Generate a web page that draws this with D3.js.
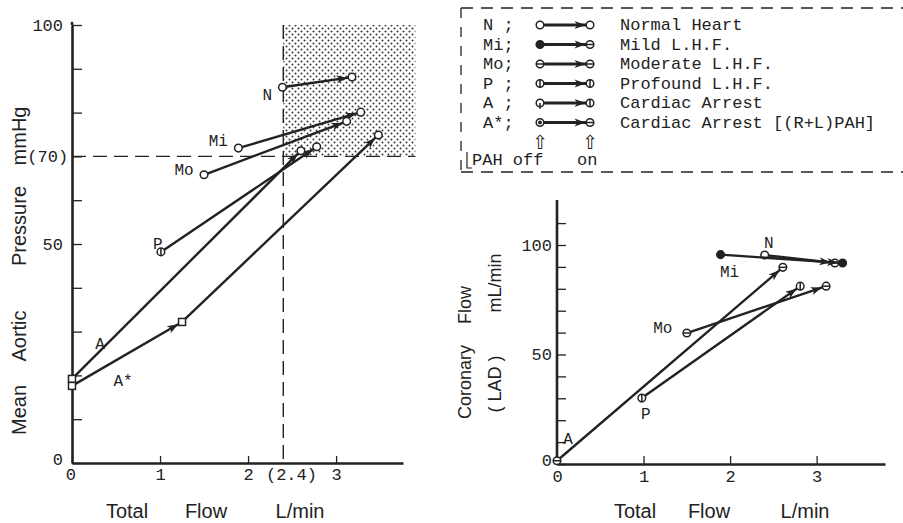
<!DOCTYPE html>
<html>
<head>
<meta charset="utf-8">
<script src="https://cdn.jsdelivr.net/npm/d3@7"></script>
<style>
  body { margin: 0; background: #fff; }
  svg text { fill: #222; }
</style>
</head>
<body>
<script>

// groups and legend
var groups = ["N", "Mi", "Mo", "P", "A", "A*"];
var groupKeys = ["N ;", "Mi;", "Mo;", "P ;", "A ;", "A*;"];
var groupNames = ["Normal Heart", "Mild L.H.F.", "Moderate L.H.F.", "Profound L.H.F.",
                  "Cardiac Arrest", "Cardiac Arrest [(R+L)PAH]"];

// left chart: total flow (L/min) and mean aortic pressure (mmHg), PAH off -> on
var aoFlowOff = [2.39, 1.89, 1.50, 1.01, 0.00, 0.00];
var aoPresOff = [85.8, 71.9, 65.8, 48.2, 19.2, 17.6];
var aoFlowOn  = [3.18, 3.28, 3.12, 2.78, 2.60, 3.48];
var aoPresOn  = [88.1, 80.1, 78.0, 72.2, 71.3, 74.9];
var aStarMid  = [1.25, 32.2];   // A* intermediate step

// right chart: total flow and coronary flow (LAD, mL/min)
var corGroups  = ["N", "Mi", "Mo", "P", "A"];
var corFlowOff = [2.40, 1.89, 1.50, 0.98, 0.00];
var corLadOff  = [95.4, 95.6, 59.8, 30.1, 1.5];
var corFlowOn  = [3.21, 3.30, 3.11, 2.81, 2.61];
var corLadOn   = [91.8, 91.8, 81.2, 81.2, 89.8];

// ticks
var aoYTicks = [0, 10, 20, 30, 40, 50, 60, 70, 80, 90, 100];
var aoYLabels = {100: "100", 70: "(70)", 50: "50", 0: "0"};
var aoXTicks = [0, 1, 2, 3];
var aoXLabels = {0: "0", 1: "1", 2: "2", 2.4: "(2.4)", 3: "3"};
var corYTicks = [0, 10, 20, 30, 40, 50, 60, 70, 80, 90, 100, 110];
var corYLabels = {100: "100", 50: "50", 0: "0"};
var corXTicks = [0, 1, 2, 3];
var targetFlow = 2.4, targetPres = 70;

var ink = "#222";
var mono = "'Liberation Mono', 'DejaVu Sans Mono', monospace";
var sans = "'Liberation Sans', Arial, sans-serif";

var svg = d3.select("body").append("svg")
    .attr("width", 903)
    .attr("height", 523);

var defs = svg.append("defs");
var pat = defs.append("pattern")
    .attr("id", "dots")
    .attr("patternUnits", "userSpaceOnUse")
    .attr("width", 6).attr("height", 6);
pat.append("circle").attr("cx", 1.5).attr("cy", 1.5).attr("r", 1).attr("fill", "#333");
pat.append("circle").attr("cx", 4.5).attr("cy", 4.5).attr("r", 1).attr("fill", "#333");

// marker shapes
function marker(g, x, y, type) {
    var r = 3.8;
    if (type === "square") {
        g.append("rect").attr("x", x - 3.5).attr("y", y - 3.5).attr("width", 7).attr("height", 7)
            .attr("fill", "#fff").attr("stroke", ink).attr("stroke-width", 1.5);
        return;
    }
    g.append("circle").attr("cx", x).attr("cy", y).attr("r", r)
        .attr("fill", type === "filled" ? ink : "#fff")
        .attr("stroke", ink).attr("stroke-width", 1.5);
    if (type === "hbar") {
        g.append("line").attr("x1", x - r).attr("x2", x + r).attr("y1", y).attr("y2", y)
            .attr("stroke", ink).attr("stroke-width", 1.5);
    } else if (type === "vbar") {
        g.append("line").attr("x1", x).attr("x2", x).attr("y1", y - r).attr("y2", y + r)
            .attr("stroke", ink).attr("stroke-width", 1.5);
    } else if (type === "tail") {
        g.append("line").attr("x1", x).attr("x2", x).attr("y1", y).attr("y2", y + r + 2)
            .attr("stroke", ink).attr("stroke-width", 1.5);
    } else if (type === "dot") {
        g.append("circle").attr("cx", x).attr("cy", y).attr("r", 2).attr("fill", ink);
    }
}

// segment with an arrowhead that stops at the end marker
function arrowSeg(g, x1, y1, x2, y2, sw) {
    g.append("line").attr("x1", x1).attr("y1", y1).attr("x2", x2).attr("y2", y2)
        .attr("stroke", ink).attr("stroke-width", sw || 2.4);
    var dx = x2 - x1, dy = y2 - y1, len = Math.sqrt(dx * dx + dy * dy);
    var ux = dx / len, uy = dy / len;
    var tx = x2 - ux * 4.5, ty = y2 - uy * 4.5;
    var bx = tx - ux * 11, by = ty - uy * 11;
    g.append("path")
        .attr("d", "M" + tx + "," + ty +
              "L" + (bx - uy * 4) + "," + (by + ux * 4) +
              "L" + (bx + ux * 3) + "," + (by + uy * 3) +
              "L" + (bx + uy * 4) + "," + (by - ux * 4) + "Z")
        .attr("fill", ink);
}

// ---------------- left chart ----------------
var xl = d3.scaleLinear().domain([0, 3.76]).range([72, 403]);
var yl = d3.scaleLinear().domain([0, 100]).range([463, 25]);
var left = svg.append("g");

// shaded target region
left.append("rect")
    .attr("x", xl(targetFlow)).attr("y", yl(100))
    .attr("width", xl(3.9) - xl(targetFlow))
    .attr("height", yl(targetPres) - yl(100))
    .attr("fill", "url(#dots)");

left.append("line")
    .attr("x1", xl(0)).attr("x2", xl(3.9))
    .attr("y1", yl(targetPres)).attr("y2", yl(targetPres))
    .attr("stroke", ink).attr("stroke-width", 1.4).attr("stroke-dasharray", "14,7");
left.append("line")
    .attr("x1", xl(targetFlow)).attr("x2", xl(targetFlow))
    .attr("y1", yl(100)).attr("y2", yl(0))
    .attr("stroke", ink).attr("stroke-width", 1.4).attr("stroke-dasharray", "14,7");

var lyAxis = left.append("g")
    .attr("transform", "translate(" + xl(0) + ",0)")
    .call(d3.axisLeft(yl).tickValues(aoYTicks).tickSizeInner(-10).tickSizeOuter(0).tickPadding(9)
        .tickFormat(function(d) { return aoYLabels[d] || ""; }));

var lxAxis = left.append("g")
    .attr("transform", "translate(0," + yl(0) + ")")
    .call(d3.axisBottom(xl).tickValues(aoXTicks.concat([targetFlow])).tickSizeInner(-7).tickSizeOuter(0).tickPadding(5)
        .tickFormat(function(d) { return aoXLabels[d] || ""; }));

[lyAxis, lxAxis].forEach(function(ax) {
    ax.select(".domain").attr("stroke", ink).attr("stroke-width", 2.6);
    ax.selectAll(".tick line").attr("stroke", ink).attr("stroke-width", 1.3);
    ax.selectAll("text").style("font-family", mono).style("font-size", "17px").attr("fill", ink);
});
left.append("line")
    .attr("x1", xl(0)).attr("x2", xl(0)).attr("y1", yl(100)).attr("y2", yl(100.7))
    .attr("stroke", ink).attr("stroke-width", 2.6);
lxAxis.selectAll(".tick").filter(function(d) { return d === targetFlow; })
    .select("line").remove();
lxAxis.selectAll(".tick").filter(function(d) { return d === targetFlow; })
    .select("text").attr("dx", "0.45em");
lyAxis.selectAll(".tick").filter(function(d) { return d === 70; }).select("text").attr("dx", "0.3em");
lyAxis.selectAll(".tick").filter(function(d) { return d === 0; }).select("text").attr("dy", "0.1em");
lxAxis.selectAll(".tick").filter(function(d) { return d === 0; }).select("text").attr("dx", "-0.1em");

var leftMarkOff = ["open", "open", "open", "vbar", "square", "square"];
var leftMarkOn  = ["open", "open", "open", "open", "open", "open"];
var leftLabelOff = {"N": [-15, 13], "Mi": [-20, -2], "Mo": [-20, 0], "P": [-3, -3], "A": [28, -30], "A*": [51, 0]};

groups.forEach(function(gname, i) {
    var g = left.append("g");
    var x0 = xl(aoFlowOff[i]), y0 = yl(aoPresOff[i]);
    var x1 = xl(aoFlowOn[i]), y1 = yl(aoPresOn[i]);
    if (gname === "A*") {
        var xm = xl(aStarMid[0]), ym = yl(aStarMid[1]);
        arrowSeg(g, x0, y0, xm, ym);
        arrowSeg(g, xm, ym, x1, y1);
        marker(g, xm, ym, "square");
    } else {
        arrowSeg(g, x0, y0, x1, y1);
    }
    marker(g, x0, y0, leftMarkOff[i]);
    marker(g, x1, y1, leftMarkOn[i]);
    var off = leftLabelOff[gname];
    left.append("text")
        .attr("x", x0 + off[0]).attr("y", y0 + off[1])
        .attr("text-anchor", "middle")
        .style("font-family", mono).style("font-size", "16px")
        .text(gname);
});

// axis titles
function vword(g, x, y, txt, size) {
    g.append("text")
        .attr("transform", "translate(" + x + "," + y + ") rotate(-90)")
        .attr("text-anchor", "middle")
        .style("font-family", sans).style("font-size", size + "px")
        .text(txt);
}
function hword(g, x, y, txt) {
    g.append("text").attr("x", x).attr("y", y).attr("text-anchor", "middle")
        .style("font-family", sans).style("font-size", "20px").text(txt);
}
vword(left, 26, 410, "Mean", 20);
vword(left, 26, 336, "Aortic", 20);
vword(left, 26, 226, "Pressure", 20);
vword(left, 26, 136, "mmHg", 20);
hword(left, 127, 518, "Total");
hword(left, 206, 518, "Flow");
hword(left, 300, 518, "L/min");

// ---------------- right chart ----------------
var xr = d3.scaleLinear().domain([0, 3.79]).range([557, 885]);
var yr = d3.scaleLinear().domain([0, 100]).range([464, 245]);
var right = svg.append("g");

var ryAxis = right.append("g")
    .attr("transform", "translate(" + xr(0) + ",0)")
    .call(d3.axisLeft(yr).tickValues(corYTicks).tickSizeInner(-9).tickSizeOuter(0).tickPadding(5)
        .tickFormat(function(d) { return corYLabels[d] || ""; }));
ryAxis.select(".domain").remove();
right.append("line")
    .attr("x1", xr(0)).attr("x2", xr(0)).attr("y1", yr(0)).attr("y2", yr(120.5))
    .attr("stroke", ink).attr("stroke-width", 2.6);

var rxAxis = right.append("g")
    .attr("transform", "translate(0," + yr(0) + ")")
    .call(d3.axisBottom(xr).tickValues(corXTicks).tickSizeInner(-8).tickSizeOuter(0).tickPadding(6)
        .tickFormat(d3.format("d")));

[ryAxis, rxAxis].forEach(function(ax) {
    ax.select(".domain").attr("stroke", ink).attr("stroke-width", 2.6);
    ax.selectAll(".tick line").attr("stroke", ink).attr("stroke-width", 1.3);
    ax.selectAll("text").style("font-family", mono).style("font-size", "17px").attr("fill", ink);
});
ryAxis.selectAll(".tick").filter(function(d) { return d === 0; }).select("text").attr("dy", "0.1em");

var rightMark = ["open", "filled", "hbar", "vbar", "hbar"];
var rightLabelOff = {"N": [4, -7], "Mi": [9, 22], "Mo": [-24, 0], "P": [4, 21], "A": [11, -17]};

corGroups.forEach(function(gname, i) {
    var g = right.append("g");
    var x0 = xr(corFlowOff[i]), y0 = yr(corLadOff[i]);
    var x1 = xr(corFlowOn[i]), y1 = yr(corLadOn[i]);
    arrowSeg(g, x0, y0, x1, y1);
    marker(g, x0, y0, rightMark[i]);
    marker(g, x1, y1, rightMark[i]);
    var off = rightLabelOff[gname];
    right.append("text")
        .attr("x", x0 + off[0]).attr("y", y0 + off[1])
        .attr("text-anchor", "middle")
        .style("font-family", mono).style("font-size", "16px")
        .text(gname);
});

vword(right, 471, 382, "Coronary", 18);
vword(right, 471, 305, "Flow", 18);
vword(right, 501, 384, "( LAD )", 18);
vword(right, 501, 283, "mL/min", 18);
hword(right, 635, 518, "Total");
hword(right, 709, 518, "Flow");
hword(right, 805, 518, "L/min");

// ---------------- legend ----------------
var lg = svg.append("g");
var dash = "12,8";
lg.append("line").attr("x1", 461).attr("x2", 903).attr("y1", 8).attr("y2", 8)
    .attr("stroke", ink).attr("stroke-width", 1.4).attr("stroke-dasharray", dash);
lg.append("line").attr("x1", 461).attr("x2", 903).attr("y1", 172).attr("y2", 172)
    .attr("stroke", ink).attr("stroke-width", 1.4).attr("stroke-dasharray", dash);
lg.append("line").attr("x1", 461).attr("x2", 461).attr("y1", 8).attr("y2", 172)
    .attr("stroke", ink).attr("stroke-width", 1.3).attr("stroke-dasharray", "10,9");
lg.append("path").attr("d", "M467,152V168H472")
    .attr("fill", "none").attr("stroke", ink).attr("stroke-width", 1.2);

var legMarkOff = ["open", "filled", "hbar", "vbar", "tail", "dot"];
var legMarkOn  = ["open", "hbar", "hbar", "vbar", "vbar", "hbar"];
groups.forEach(function(gname, i) {
    var cy = 25 + i * 19.5;
    lg.append("text").attr("x", 483).attr("y", cy + 5)
        .style("font-family", mono).style("font-size", "17px")
        .text(groupKeys[i]);
    arrowSeg(lg, 540, cy, 590, cy, 2.8);
    marker(lg, 540, cy, legMarkOff[i]);
    marker(lg, 590, cy, legMarkOn[i]);
    lg.append("text").attr("x", 620).attr("y", cy + 5)
        .style("font-family", mono).style("font-size", "17px")
        .text(groupNames[i]);
});
lg.append("text").attr("x", 540).attr("y", 149).attr("text-anchor", "middle")
    .style("font-family", "'DejaVu Sans'").style("font-size", "19px").text("\u21E7");
lg.append("text").attr("x", 590).attr("y", 149).attr("text-anchor", "middle")
    .style("font-family", "'DejaVu Sans'").style("font-size", "19px").text("\u21E7");
lg.append("text").attr("x", 472).attr("y", 165)
    .style("font-family", mono).style("font-size", "17px").text("PAH off");
lg.append("text").attr("x", 577).attr("y", 165)
    .style("font-family", mono).style("font-size", "17px").text("on");

</script>
</body>
</html>
